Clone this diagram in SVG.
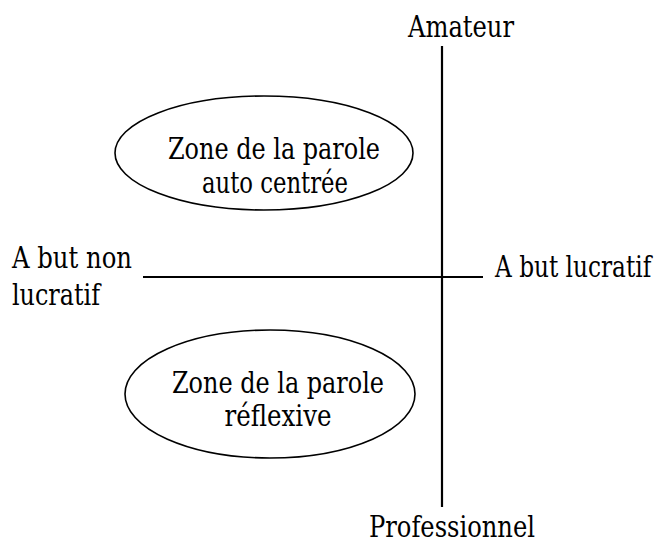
<svg xmlns="http://www.w3.org/2000/svg" width="664" height="544" viewBox="0 0 664 544">
  <style>
    .lbl { font-family: 'DejaVu Serif Condensed', 'DejaVu Serif', serif; font-stretch: condensed; font-size: 30px; fill: #000; }
    .mid { text-anchor: middle; }
    .axis { stroke: #000; stroke-width: 2.2; fill: none; }
    .zone { stroke: #000; stroke-width: 1.6; fill: #fff; }
  </style>
  <rect width="664" height="544" fill="#fff"/>

  <!-- axes -->
  <g id="connectors">
    <line class="axis" x1="442" y1="46" x2="442" y2="507"/>
    <line class="axis" x1="143" y1="277" x2="483" y2="277"/>
  </g>

  <!-- axis labels -->
  <g id="amateur">
    <text class="lbl mid" x="461" y="37" textLength="106" lengthAdjust="spacingAndGlyphs">Amateur</text>
  </g>
  <g id="professionnel">
    <text class="lbl mid" x="452" y="537" textLength="166" lengthAdjust="spacingAndGlyphs">Professionnel</text>
  </g>
  <g id="but-lucratif">
    <!-- horizontally condensed via transform so the label stays inside the frame -->
    <text class="lbl" transform="translate(495,277) scale(0.86,1)">A but lucratif</text>
  </g>
  <g id="but-non-lucratif">
    <text class="lbl" x="12" y="268" textLength="120" lengthAdjust="spacingAndGlyphs">A but non</text>
    <text class="lbl" x="12" y="305" textLength="88" lengthAdjust="spacingAndGlyphs">lucratif</text>
  </g>

  <!-- zones -->
  <g id="zone-auto-centree">
    <ellipse class="zone" cx="264" cy="153" rx="149" ry="57"/>
    <text class="lbl mid" x="274" y="159" textLength="212" lengthAdjust="spacingAndGlyphs">Zone de la parole</text>
    <text class="lbl mid" x="275" y="193" textLength="146" lengthAdjust="spacingAndGlyphs">auto centrée</text>
  </g>
  <g id="zone-reflexive">
    <ellipse class="zone" cx="270" cy="394" rx="145" ry="64"/>
    <text class="lbl mid" x="278" y="393" textLength="212" lengthAdjust="spacingAndGlyphs">Zone de la parole</text>
    <text class="lbl mid" x="278" y="426" textLength="107" lengthAdjust="spacingAndGlyphs">réflexive</text>
  </g>
</svg>
